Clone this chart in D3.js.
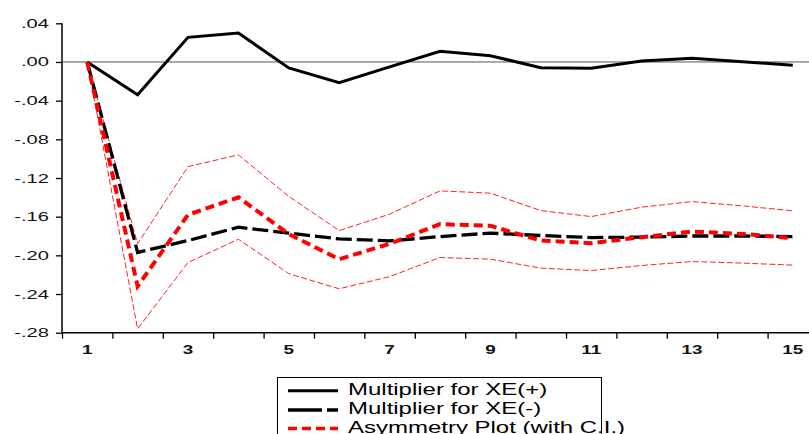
<!DOCTYPE html>
<html>
<head>
<meta charset="utf-8">
<script src="https://d3js.org/d3.v7.min.js"></script>
<style>
  html, body { margin: 0; padding: 0; background: #fff; }
  svg { font-family: 'Liberation Sans', Arial, sans-serif; display: block; }
</style>
</head>
<body>
<div id="chart"></div>
<script>
// horizon 1..15
const periods = d3.range(1, 16)
const xLabels = [1, 3, 5, 7, 9, 11, 13, 15]
const yTicks = [0.04, 0.00, -0.04, -0.08, -0.12, -0.16, -0.20, -0.24, -0.28]

const positive = [0, -0.034, 0.0255, 0.030, -0.0062, -0.0214, -0.005, 0.011, 0.0065, -0.0059, -0.0065, 0.001, 0.0038, 0.0003, -0.0034]
const negative = [0, -0.197, -0.1847, -0.1709, -0.177, -0.183, -0.185, -0.1806, -0.177, -0.1795, -0.1816, -0.1812, -0.180, -0.180, -0.1806]
const asym     = [0, -0.232, -0.158, -0.140, -0.178, -0.204, -0.188, -0.1677, -0.1695, -0.1847, -0.1874, -0.1812, -0.1754, -0.1778, -0.1822]
const upperCI  = [0, -0.188, -0.1082, -0.0961, -0.139, -0.1744, -0.1574, -0.1333, -0.1357, -0.1537, -0.1599, -0.1502, -0.1444, -0.1488, -0.154]
const lowerCI  = [0, -0.276, -0.2074, -0.1833, -0.219, -0.2346, -0.222, -0.2022, -0.204, -0.2132, -0.2157, -0.2105, -0.2064, -0.208, -0.2101]

const legendNames = ['Multiplier for XE(+)', 'Multiplier for XE(-)', 'Asymmetry Plot (with C.I.)']

const W = 809, H = 434
const plotLeft = 62, plotTop = 23.3, plotBottom = 332.7

const svg = d3.select('#chart').append('svg')
  .attr('width', W).attr('height', H)

const x = d3.scaleLinear().domain([0.5, 15.5]).range([plotLeft, 818])
const y = d3.scaleLinear().domain([-0.28, 0.04]).range([plotBottom, plotTop])

// zero line
svg.append('line')
  .attr('x1', plotLeft).attr('x2', W)
  .attr('y1', y(0)).attr('y2', y(0))
  .attr('stroke', '#555').attr('stroke-width', 1)

// y axis
const yAxis = svg.append('g')
  .attr('transform', `translate(${plotLeft},0)`)
  .call(d3.axisLeft(y).tickValues(yTicks).tickSize(6).tickFormat(''))
yAxis.select('.domain').attr('stroke-width', 1.5).attr('d', `M0,${plotTop}V${plotBottom}`)
yAxis.selectAll('.tick line').attr('stroke-width', 1.3)

// eviews style: ".04", "-.04"
const fmt = v => d3.format('.2f')(v).replace('\u2212', '-').replace('0.', '.')
svg.append('g').selectAll('text')
  .data(yTicks).enter().append('text')
   .attr('transform', d => `translate(49,${y(d) + 4.5}) scale(1.55,1)`)
   .attr('text-anchor', 'end')
   .attr('font-size', 13)
   .attr('fill', '#111')
   .text(fmt)

// x axis: ticks between periods, labels on odd periods
const xAxis = svg.append('g')
  .attr('transform', `translate(0,${plotBottom})`)
  .call(d3.axisBottom(x).tickValues(d3.range(0.5, 16, 1)).tickSize(6).tickFormat(''))
xAxis.select('.domain').attr('stroke-width', 1.5).attr('d', `M${plotLeft},0H${W}`)
xAxis.selectAll('.tick line').attr('stroke-width', 1.3)

svg.append('g').selectAll('text')
  .data(xLabels).enter().append('text')
   .attr('transform', d => `translate(${x(d)},${plotBottom + 21.5}) scale(1.45,1)`)
   .attr('text-anchor', 'middle')
   .attr('font-size', 13)
   .attr('font-weight', 'bold')
   .attr('fill', '#111')
   .text(d => d)

// series
const line = d3.line().x((d, i) => x(periods[i])).y(d => y(d))

const series = [
  {values: upperCI, color: '#ff2020', width: 1, dash: '6,2.5'},
  {values: lowerCI, color: '#ff2020', width: 1, dash: '6,2.5'},
  {values: positive, color: '#000', width: 3, dash: null},
  {values: negative, color: '#000', width: 3.3, dash: '16,5'},
  {values: asym, color: '#ff0000', width: 4, dash: '9,5'}
]

svg.append('g').selectAll('path')
  .data(series).enter().append('path')
   .attr('d', d => line(d.values))
   .attr('fill', 'none')
   .attr('stroke', d => d.color)
   .attr('stroke-width', d => d.width)
   .attr('stroke-dasharray', d => d.dash)
   .attr('stroke-linejoin', 'miter')

// legend
const legend = svg.append('g')
legend.append('rect')
  .attr('x', 277.5).attr('y', 377.5)
  .attr('width', 324).attr('height', 80)
  .attr('fill', '#fff').attr('stroke', '#000').attr('stroke-width', 1)

const legendStyle = [series[2], series[3], series[4]]
const rowY = [390.7, 410, 428.5]
legend.selectAll('line')
  .data(legendStyle).enter().append('line')
   .attr('x1', 288).attr('x2', 338)
   .attr('y1', (d, i) => rowY[i]).attr('y2', (d, i) => rowY[i])
   .attr('stroke', d => d.color)
   .attr('stroke-width', d => Math.min(d.width, 3.3))
   .attr('stroke-dasharray', (d, i) => i == 1 ? '34,5' : d.dash)

legend.selectAll('text')
  .data(legendNames).enter().append('text')
   .attr('transform', (d, i) => `translate(348,${rowY[i] + 4}) scale(1.5,1)`)
   .attr('font-size', 16)
   .attr('fill', '#000')
   .text(d => d)
</script>
</body>
</html>
